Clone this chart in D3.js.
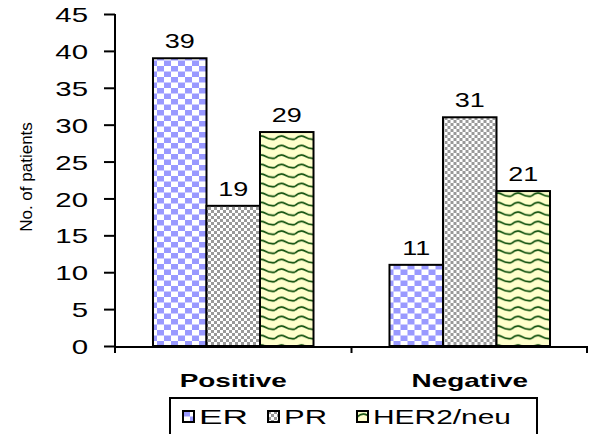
<!DOCTYPE html>
<html>
<head>
<meta charset="utf-8">
<script src="https://cdn.jsdelivr.net/npm/d3@7"></script>
<style>
  body { margin: 0; background: #fff; }
  text { font-family: Arial, "Liberation Sans", sans-serif; fill: #000; }
  .bar { stroke: #000; stroke-width: 2; }
</style>
</head>
<body>
<div id="chart"></div>
<script>
var categories = ["Positive", "Negative"];
var seriesNames = ["ER", "PR", "HER2/neu"];
var erValues = [39, 11];
var prValues = [19, 31];
var herValues = [29, 21];
var yTicks = [0, 5, 10, 15, 20, 25, 30, 35, 40, 45];

var width = 589, height = 434;
var svg = d3.select("#chart").append("svg")
  .attr("width", width).attr("height", height);

// fill patterns
var defs = svg.append("defs");
defs.html(
  '<pattern id="p-er" width="14" height="11" patternUnits="userSpaceOnUse">' +
    '<rect width="14" height="11" fill="#fff"/>' +
    '<rect width="7" height="5.5" fill="#9999ff"/>' +
    '<rect x="7" y="5.5" width="7" height="5.5" fill="#9999ff"/>' +
  '</pattern>' +
  '<pattern id="p-pr" width="6" height="6" patternUnits="userSpaceOnUse">' +
    '<rect width="6" height="6" fill="#fff"/>' +
    '<rect width="3" height="3" fill="#999"/>' +
    '<rect x="3" y="3" width="3" height="3" fill="#999"/>' +
  '</pattern>' +
  '<pattern id="p-her" width="20" height="9.5" patternUnits="userSpaceOnUse">' +
    '<rect width="20" height="9.5" fill="#ffffcc"/>' +
    '<path d="M0,6 Q5,1 10,4 T20,6" fill="none" stroke="#004400" stroke-width="1.6"/>' +
  '</pattern>');
var fills = ["url(#p-er)", "url(#p-pr)", "url(#p-her)"];

// stretch text horizontally like the original bitmap
function stretch(sel, k) {
  sel.each(function() {
    var w = this.getComputedTextLength();
    d3.select(this).attr("textLength", w * k).attr("lengthAdjust", "spacingAndGlyphs");
  });
}

var x0 = d3.scaleBand().domain(categories).range([115, 588]).paddingInner(0).paddingOuter(0);
var x1 = d3.scaleBand().domain(seriesNames).range([0, x0.bandwidth()]).paddingOuter(0.71).paddingInner(0);
var y = d3.scaleLinear().domain([0, 45]).range([346, 14]);

var rows = categories.map(function(c, i) {
  return { cat: c, vals: [erValues[i], prValues[i], herValues[i]] };
});

// bars
var groups = svg.selectAll(".grp").data(rows).enter().append("g")
  .attr("transform", function(d) { return "translate(" + x0(d.cat) + ",0)"; });

groups.selectAll("rect").data(function(d) {
    return d.vals.map(function(v, j) { return { s: seriesNames[j], v: v, j: j }; });
  })
  .enter().append("rect")
  .attr("class", "bar")
  .attr("x", function(d) { return x1(d.s); })
  .attr("width", x1.bandwidth())
  .attr("y", function(d) { return y(d.v); })
  .attr("height", function(d) { return y(0) - y(d.v); })
  .attr("fill", function(d) { return fills[d.j]; });

groups.selectAll(".lbl").data(function(d) {
    return d.vals.map(function(v, j) { return { s: seriesNames[j], v: v }; });
  })
  .enter().append("text")
  .attr("class", "lbl")
  .attr("x", function(d) { return x1(d.s) + x1.bandwidth() / 2; })
  .attr("y", function(d) { return y(d.v) - 10; })
  .attr("text-anchor", "middle")
  .style("font-size", "20px")
  .text(function(d) { return d.v; })
  .call(stretch, 1.35);

// y axis
var yAxis = svg.append("g").attr("transform", "translate(115,0)")
  .call(d3.axisLeft(y).tickValues(yTicks).tickSize(11).tickPadding(16));
yAxis.select(".domain").attr("d", "M0," + y(45) + "V" + (y(0) + 6)).attr("stroke", "#000").attr("stroke-width", 2);
yAxis.selectAll(".tick line").attr("stroke", "#000").attr("stroke-width", 2);
yAxis.selectAll(".tick text").style("font-size", "21px").attr("font-family", null)
  .attr("dy", "0.36em").call(stretch, 1.4);

// x axis
var xAxis = svg.append("g").attr("transform", "translate(0," + (y(0) + 1) + ")");
xAxis.append("path").attr("d", "M115,0H588").attr("stroke", "#000").attr("stroke-width", 2);
xAxis.selectAll(".xt").data([115, x0("Negative"), 587]).enter().append("path")
  .attr("d", function(d) { return "M" + d + ",0V6"; })
  .attr("stroke", "#000").attr("stroke-width", 2);

xAxis.selectAll(".cat").data(categories).enter().append("text")
  .attr("x", function(d) { return x0(d) + x0.bandwidth() / 2; })
  .attr("y", 40)
  .attr("text-anchor", "middle")
  .style("font-size", "19px").style("font-weight", "bold")
  .text(function(d) { return d; })
  .call(stretch, 1.47);

// y title
svg.append("text")
  .attr("transform", "translate(32,177) rotate(-90)")
  .attr("text-anchor", "middle")
  .style("font-size", "17px")
  .text("No. of patients")
  .call(stretch, 1.0);

// legend
var legend = svg.append("g");
legend.append("rect").attr("x", 170).attr("y", 398).attr("width", 367).attr("height", 40)
  .attr("fill", "#fff").attr("stroke", "#000").attr("stroke-width", 2);
var legX = [183, 268, 357];
var legTextW = [49, 43, 138];
var items = legend.selectAll(".li").data(seriesNames).enter().append("g")
  .attr("transform", function(d, i) { return "translate(" + legX[i] + ",411)"; });
items.append("rect").attr("width", 11).attr("height", 11)
  .attr("fill", function(d, i) { return fills[i]; })
  .attr("stroke", "#000").attr("stroke-width", 2);
items.append("text").attr("x", 16).attr("y", 13)
  .style("font-size", "20px")
  .attr("textLength", function(d, i) { return legTextW[i]; })
  .attr("lengthAdjust", "spacingAndGlyphs")
  .text(function(d) { return d; });
</script>
</body>
</html>
